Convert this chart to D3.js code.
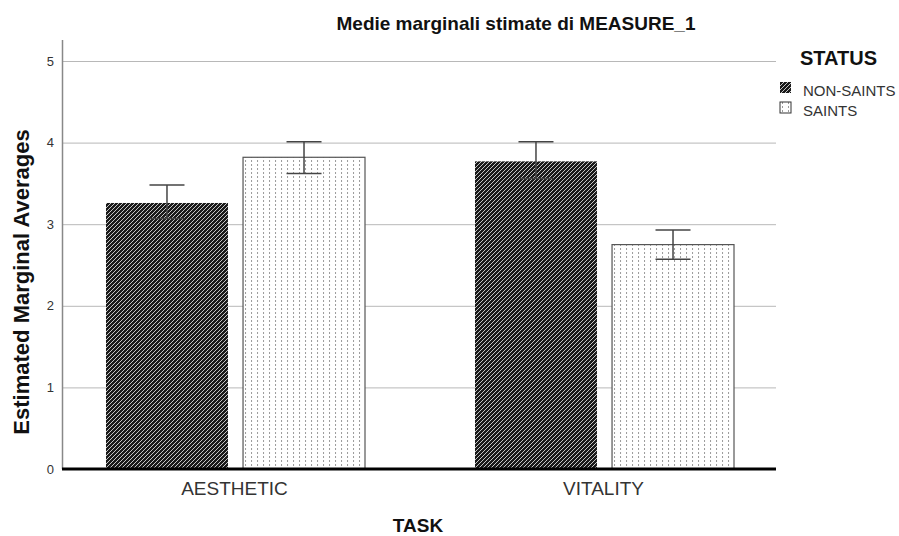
<!DOCTYPE html>
<html>
<head>
<meta charset="utf-8">
<script src="https://cdn.jsdelivr.net/npm/d3@7"></script>
<style>
  body { margin: 0; background: #fff; }
  text { font-family: "Liberation Sans", Arial, sans-serif; }
</style>
</head>
<body>
<div id="chart"></div>
<script>
// chart data
var tasks = ["AESTHETIC", "VITALITY"];
var groups = ["NON-SAINTS", "SAINTS"];
var means = [[3.26, 3.82], [3.77, 2.75]];
var lower = [[3.07, 3.62], [3.56, 2.57]];
var upper = [[3.48, 4.01], [4.01, 2.93]];
var yTicks = [0, 1, 2, 3, 4, 5];

var width = 899, height = 536;
var plot = { left: 62, right: 776, top: 40, bottom: 469 };

var svg = d3.select("#chart")
    .append("svg")
    .attr("width", width)
    .attr("height", height);

// patterns
var defs = svg.append("defs");
var hatch = defs.append("pattern")
    .attr("id", "hatch")
    .attr("patternUnits", "userSpaceOnUse")
    .attr("width", 4).attr("height", 4);
hatch.append("rect").attr("width", 4).attr("height", 4).attr("fill", "#1a1a1a");
hatch.append("path")
    .attr("d", "M-1,1 l2,-2 M0,4 l4,-4 M3,5 l2,-2")
    .attr("stroke", "#d8d8d8").attr("stroke-width", 0.9);

var dots = defs.append("pattern")
    .attr("id", "dots")
    .attr("patternUnits", "userSpaceOnUse")
    .attr("width", 6).attr("height", 4);
dots.append("rect").attr("width", 6).attr("height", 4).attr("fill", "#fff");
dots.append("rect").attr("x", 2).attr("y", 0).attr("width", 1).attr("height", 2).attr("fill", "#9a9a9a");

var y = d3.scaleLinear().domain([0, 5]).range([plot.bottom, plot.bottom - 5 * 81.6]);

var x0 = d3.scaleBand().domain(tasks).range([51, 789]);
var x1 = d3.scaleBand().domain(groups)
    .range([x0.bandwidth() / 2 - 129.5, x0.bandwidth() / 2 + 129.5])
    .paddingInner(0.11);

// gridlines
svg.append("g")
    .selectAll("line")
    .data(yTicks.filter(d => d > 0))
    .enter()
    .append("line")
    .attr("x1", plot.left).attr("x2", plot.right)
    .attr("y1", d => y(d) + 0.5).attr("y2", d => y(d) + 0.5)
    .attr("stroke", "#b8b8b8").attr("stroke-width", 1);

// y axis
var yAxis = svg.append("g")
    .attr("transform", "translate(" + plot.left + ",0)")
    .call(d3.axisLeft(y).tickValues(yTicks).tickSize(0).tickPadding(8).tickFormat(d3.format("d")));
yAxis.select(".domain").remove();
yAxis.selectAll("text")
    .attr("font-size", 13)
    .attr("fill", "#333")
    .style("font-family", "Liberation Sans, Arial, sans-serif");
svg.append("line")
    .attr("x1", plot.left + 0.5).attr("x2", plot.left + 0.5)
    .attr("y1", plot.top).attr("y2", plot.bottom)
    .attr("stroke", "#888").attr("stroke-width", 1.5);

// bars
var rows = [];
tasks.forEach(function (t, i) {
    groups.forEach(function (g, j) {
        rows.push({ task: t, group: g, mean: means[i][j], lo: lower[i][j], hi: upper[i][j] });
    });
});

var bar = svg.append("g")
    .selectAll("g")
    .data(rows)
    .enter()
    .append("g")
    .attr("transform", d => "translate(" + (x0(d.task) + x1(d.group)) + ",0)");

bar.append("rect")
    .attr("x", 0)
    .attr("y", d => y(d.mean))
    .attr("width", x1.bandwidth())
    .attr("height", d => y(0) - y(d.mean))
    .attr("fill", d => d.group === "SAINTS" ? "url(#dots)" : "url(#hatch)")
    .attr("stroke", d => d.group === "SAINTS" ? "#555" : "none")
    .attr("stroke-width", 1.2);

// error bars
var cx = x1.bandwidth() / 2;
bar.append("line")
    .attr("x1", cx).attr("x2", cx)
    .attr("y1", d => y(d.hi)).attr("y2", d => y(d.lo))
    .attr("stroke", "#444").attr("stroke-width", 1.5);
bar.append("line")
    .attr("x1", cx - 17.5).attr("x2", cx + 17.5)
    .attr("y1", d => y(d.hi)).attr("y2", d => y(d.hi))
    .attr("stroke", "#444").attr("stroke-width", 1.5);
bar.append("line")
    .attr("x1", cx - 17.5).attr("x2", cx + 17.5)
    .attr("y1", d => y(d.lo)).attr("y2", d => y(d.lo))
    .attr("stroke", "#444").attr("stroke-width", 1.5);

// baseline
svg.append("line")
    .attr("x1", plot.left).attr("x2", plot.right)
    .attr("y1", y(0)).attr("y2", y(0))
    .attr("stroke", "#000").attr("stroke-width", 3);

// x tick labels
svg.append("g")
    .selectAll("text")
    .data(tasks)
    .enter()
    .append("text")
    .attr("x", d => x0(d) + x0.bandwidth() / 2 - 1)
    .attr("y", 495)
    .attr("text-anchor", "middle")
    .attr("font-size", 19)
    .attr("fill", "#333")
    .text(d => d);

// titles
svg.append("text")
    .attr("x", 516).attr("y", 30)
    .attr("text-anchor", "middle")
    .attr("font-size", 19).attr("font-weight", "bold")
    .attr("fill", "#111")
    .text("Medie marginali stimate di MEASURE_1");

svg.append("text")
    .attr("transform", "translate(29,282) rotate(-90)")
    .attr("text-anchor", "middle")
    .attr("font-size", 22).attr("font-weight", "bold")
    .attr("fill", "#111")
    .text("Estimated Marginal Averages");

svg.append("text")
    .attr("x", 418).attr("y", 532)
    .attr("text-anchor", "middle")
    .attr("font-size", 19).attr("font-weight", "bold")
    .attr("fill", "#111")
    .text("TASK");

// legend
var legend = svg.append("g");
legend.append("text")
    .attr("x", 800).attr("y", 65)
    .attr("font-size", 20).attr("font-weight", "bold")
    .attr("fill", "#111")
    .text("STATUS");
var item = legend.selectAll("g.item")
    .data(groups)
    .enter()
    .append("g")
    .attr("class", "item")
    .attr("transform", (d, i) => "translate(780," + (82 + i * 20) + ")");
item.append("rect")
    .attr("width", 11).attr("height", 11)
    .attr("fill", d => d === "SAINTS" ? "url(#dots)" : "url(#hatch)")
    .attr("stroke", d => d === "SAINTS" ? "#333" : "none")
    .attr("stroke-width", 1);
item.append("text")
    .attr("x", 23).attr("y", 14)
    .attr("font-size", 15)
    .attr("fill", "#333")
    .text(d => d);
</script>
</body>
</html>
